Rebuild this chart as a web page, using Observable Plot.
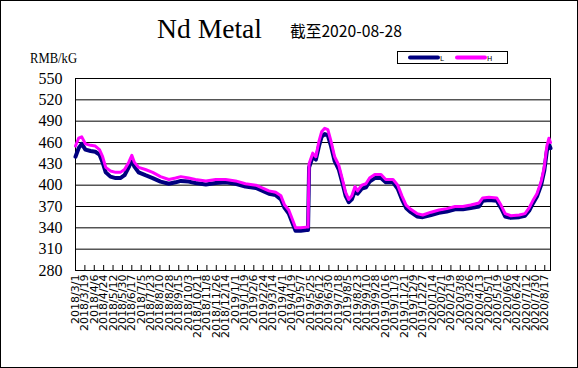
<!DOCTYPE html>
<html>
<head>
<meta charset="utf-8">
<script src="https://cdn.jsdelivr.net/npm/d3@7"></script>
<script src="https://cdn.jsdelivr.net/npm/@observablehq/plot@0.6"></script>
<style>
  html, body { margin: 0; padding: 0; background: #fff; }
  #wrap { position: relative; width: 578px; height: 368px; overflow: hidden; background: #fff; }
  #wrap > svg { position: absolute; left: 0; top: 0; }
  #border { position: absolute; left: 0; top: 0; width: 576px; height: 366px; border: 1px solid #000; pointer-events: none; }
</style>
</head>
<body>
<div id="wrap"></div>
<script>
// ---- data ----
const dates = [
  "2018-03-01","2018-03-07","2018-03-13","2018-03-20","2018-03-30","2018-04-08","2018-04-16","2018-04-22","2018-04-28",
  "2018-05-07","2018-05-17","2018-05-26","2018-06-03","2018-06-11","2018-06-17","2018-06-22","2018-06-30","2018-07-13",
  "2018-07-27","2018-08-11","2018-08-27","2018-09-09","2018-09-19","2018-10-04","2018-10-17","2018-11-06","2018-11-25",
  "2018-12-14","2019-01-02","2019-01-21","2019-02-10","2019-02-23","2019-03-07","2019-03-20","2019-03-30","2019-04-06",
  "2019-04-14","2019-04-22","2019-04-27","2019-05-07","2019-05-18","2019-05-21","2019-05-23","2019-05-30","2019-06-05",
  "2019-06-11","2019-06-16","2019-06-22","2019-06-28","2019-07-04","2019-07-11","2019-07-19","2019-07-27","2019-08-01",
  "2019-08-07","2019-08-13","2019-08-19","2019-08-24","2019-09-01","2019-09-09","2019-09-16","2019-09-26","2019-10-08",
  "2019-10-17","2019-10-31","2019-11-09","2019-11-17","2019-11-25","2019-12-04","2019-12-16","2019-12-27","2020-01-12",
  "2020-01-27","2020-02-11","2020-02-27","2020-03-13","2020-03-28","2020-04-13","2020-04-20","2020-05-02","2020-05-17",
  "2020-05-25","2020-06-02","2020-06-13","2020-06-29","2020-07-10","2020-07-18","2020-07-25","2020-08-02","2020-08-10",
  "2020-08-16","2020-08-21","2020-08-25","2020-08-28"
];
const seriesH = [
  455,466,468,458,456,455,450,440,425,
  420,418,418,422,432,442,432,425,422,
  418,412,408,410,412,410,408,406,408,
  408,406,402,400,396,392,390,385,372,
  365,350,340,340,341,341,430,445,440,
  462,475,480,478,462,440,428,405,390,
  380,385,398,392,400,402,410,415,415,
  408,408,400,385,372,366,360,358,362,
  365,367,370,370,372,375,382,383,382,
  372,360,357,358,360,368,378,388,405,
  425,455,466,460
];
const seriesL = [
  440,452,458,450,448,447,443,432,418,
  412,410,410,414,425,435,426,418,414,
  410,405,402,404,406,405,403,401,403,
  404,402,398,396,392,388,386,380,368,
  360,345,336,336,337,337,425,440,436,
  455,468,472,470,455,434,422,400,385,
  376,380,392,388,395,397,405,410,410,
  404,404,395,380,368,362,356,355,358,
  361,363,366,366,368,370,378,379,378,
  368,356,354,355,357,364,374,384,400,
  420,448,458,452
];
const yTicks = [280, 310, 340, 370, 400, 430, 460, 490, 520, 550];
const xTickLabels = [
  "2018/3/1","2018/3/19","2018/4/6","2018/4/24","2018/5/12","2018/5/30","2018/6/17","2018/7/5","2018/7/23",
  "2018/8/10","2018/8/28","2018/9/15","2018/10/3","2018/10/21","2018/11/8","2018/11/26","2018/12/14",
  "2019/1/1","2019/1/19","2019/2/6","2019/2/24","2019/3/14","2019/4/1","2019/4/19","2019/5/7","2019/5/25",
  "2019/6/12","2019/6/30","2019/7/18","2019/8/5","2019/8/23","2019/9/10","2019/9/28","2019/10/16","2019/11/3",
  "2019/11/21","2019/12/9","2019/12/27","2020/1/14","2020/2/1","2020/2/19","2020/3/8","2020/3/26","2020/4/13",
  "2020/5/1","2020/5/19","2020/6/6","2020/6/24","2020/7/12","2020/7/30","2020/8/17"
];
const titleText = "Nd Metal";
const subtitleText = "截至2020-08-28";
const unitText = "RMB/kG";
const seriesNames = ["L", "H"];
const seriesColors = ["#000080", "#ff00ff"];

// ---- build ----
const parseLabel = s => { const [y, m, d] = s.split("/").map(Number); return new Date(Date.UTC(y, m - 1, d)); };
const xTicks = xTickLabels.map(parseLabel);
const labelOf = new Map(xTicks.map((d, i) => [+d, xTickLabels[i]]));
const data = dates.map((d, i) => ({date: new Date(d + "T00:00:00Z"), L: seriesL[i], H: seriesH[i]}));

const W = 578, Hh = 368;
const mL = 75, mR = 28, mT = 78, mB = 98;

const chart = Plot.plot({
  width: W, height: Hh,
  marginLeft: mL, marginRight: mR, marginTop: mT, marginBottom: mB,
  style: {background: "transparent", color: "#000"},
  x: {type: "utc", domain: [new Date("2018-03-01T00:00:00Z"), new Date("2020-08-28T00:00:00Z")]},
  y: {domain: [280, 550]},
  marks: [
    Plot.ruleY(yTicks, {stroke: "#000", strokeWidth: 1, strokeOpacity: 1}),
    Plot.frame({stroke: "#000", strokeWidth: 1}),
    Plot.tickX(xTicks, {x: d => d, insetTop: Hh - mT - mB - 5, stroke: "#000", strokeWidth: 1}),
    Plot.lineY(data, {x: "date", y: "L", stroke: seriesColors[0], strokeWidth: 4}),
    Plot.lineY(data, {x: "date", y: "H", stroke: seriesColors[1], strokeWidth: 3}),
    Plot.axisY({ticks: yTicks, tickSize: 0, tickPadding: 13, label: null,
      fontSize: 16, fontFamily: "Liberation Serif"}),
    Plot.axisX({ticks: xTicks, tickFormat: d => labelOf.get(+d), tickRotate: -90, tickSize: 0, tickPadding: 4,
      label: null, fontSize: 11, fontFamily: "DejaVu Sans"})
  ]
});
const wrap = document.getElementById("wrap");
wrap.appendChild(chart);

// ---- titles and legend overlay ----
const ov = d3.select(wrap).append("svg")
  .attr("width", W).attr("height", Hh)
  .style("position", "absolute").style("left", 0).style("top", 0);

ov.append("text").attr("x", 157).attr("y", 38)
  .attr("textLength", 105).attr("lengthAdjust", "spacingAndGlyphs")
  .style("font", "28px 'Liberation Serif'").attr("fill", "#000").text(titleText);
ov.append("text").attr("x", 290).attr("y", 37)
  .attr("textLength", 112).attr("lengthAdjust", "spacingAndGlyphs")
  .style("font", "16px 'Noto Sans CJK SC'").attr("fill", "#000").text(subtitleText);
ov.append("text").attr("x", 30).attr("y", 63)
  .attr("textLength", 47).attr("lengthAdjust", "spacingAndGlyphs")
  .style("font", "15px 'Liberation Serif'").attr("fill", "#000").text(unitText);

const lg = ov.append("g");
lg.append("rect").attr("x", 397.5).attr("y", 51.5).attr("width", 110).attr("height", 12)
  .attr("fill", "#fff").attr("stroke", "#000");
const legendItems = [{x: 410, name: seriesNames[0], color: seriesColors[0]},
                     {x: 457, name: seriesNames[1], color: seriesColors[1]}];
legendItems.forEach(it => {
  lg.append("line").attr("x1", it.x).attr("x2", it.x + 28).attr("y1", 57.5).attr("y2", 57.5)
    .attr("stroke", it.color).attr("stroke-width", 4).attr("stroke-linecap", "round");
  lg.append("text").attr("x", it.x + 30).attr("y", 60.5)
    .style("font", "7px 'DejaVu Sans'").attr("fill", "#000").text(it.name);
});

d3.select(wrap).append("div").attr("id", "border");
</script>
</body>
</html>
